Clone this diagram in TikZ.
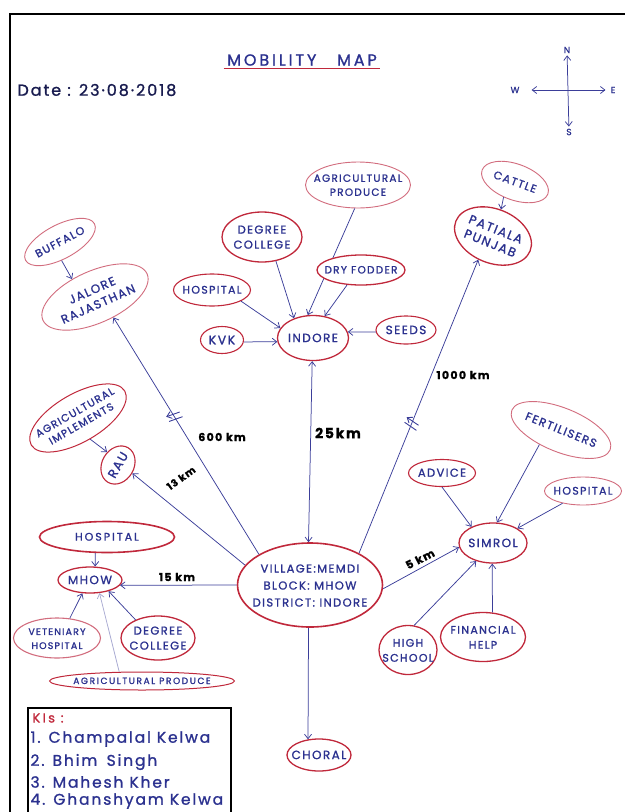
\documentclass[tikz,border=0pt]{standalone}
\usepackage{fontspec}
\setmainfont{Poppins}
\newfontfamily\hand[LetterSpace=12,FakeBold=1.2]{Poppins}
\newfontfamily\wide[LetterSpace=18,FakeBold=1.2]{Poppins}
\usetikzlibrary{shapes.geometric,arrows.meta,decorations.markings}
\definecolor{ink}{HTML}{2B318F}
\definecolor{pen}{HTML}{3B3E99}
\definecolor{rim}{HTML}{C0283B}
\definecolor{pale}{HTML}{D26D7E}
\newcommand{\sz}[2]{\fontsize{#1}{#2}\selectfont}
\newcommand{\tx}[1]{\makebox[0pt]{\smash{\raisebox{-.36em}{\begin{tabular}{@{}c@{}}#1\end{tabular}}}}}

\begin{document}
\begin{tikzpicture}[x=1pt,y=-1pt,>={Straight Barb[length=4.5pt,width=7pt]},
  every node/.style={font=\hand\sz{12}{14}},
  town/.style={ellipse,draw=rim,line width=1.3pt,fill=white,inner sep=0pt,text=ink},
  thing/.style={town,draw=pale,line width=.9pt},
  link/.style={draw=pen,line width=.75pt,->},
  dist/.style={font=\hand\bfseries\sz{11}{12},text=black},
  brk/.style={postaction={decorate},decoration={markings,mark=at position #1 with {\draw[pen,line width=.9pt] (-4pt,-7pt) -- (-1pt,7pt) (1.5pt,-7pt) -- (4.5pt,7pt);}}}]
  \useasboundingbox (0,0) rectangle (625,812);
  \draw[line width=2.5pt] (10,812) -- (10,14) -- (625,14);

  % heading, date, compass
  \node[text=ink,font=\wide\sz{16}{18}] (ttl) at (302,60) {MOBILITY\hspace{1.3em}MAP};
  \draw[rim,line width=1.1pt] ([yshift=1pt]ttl.south west) -- ([yshift=1pt]ttl.south east);
  \node[anchor=west,text=ink!55!black,font=\hand\sz{16}{18}] (date) at (14,90) {Date : 23·08·2018};
  \node[text=ink,inner sep=2pt,font=\hand\sz{9}{10}] (cN) at (567,50) {N};
  \node[text=ink,inner sep=2pt,font=\hand\sz{9}{10}] (cS) at (569,132) {S};
  \node[text=ink,inner sep=2pt,font=\hand\sz{9}{10}] (cW) at (515,90) {W};
  \node[text=ink,inner sep=2pt,font=\hand\sz{9}{10}] (cE) at (613,90) {E};
  \draw[pen,line width=.75pt,<->] (cN) -- (cS);
  \draw[pen,line width=.75pt,<->,shorten <=10pt,shorten >=3pt] (cW) -- (cE);

  % places round Indore
  \node[thing,minimum width=105,minimum height=46,font=\hand\sz{10.5}{14}] (agp) at (358,185) {\tx{AGRICULTURAL\\PRODUCE}};
  \node[town,minimum width=71,minimum height=45] (ind) at (313,338) {\tx{INDORE}};
  \draw[link] (agp.262) -- (ind.103);
  \node[town,minimum width=88,minimum height=30,font=\hand\sz{10.5}{12}] (dry) at (361,270) {\tx{DRY FODDER}};
  \node[town,minimum width=80,minimum height=50,font=\hand\sz{11.5}{15}] (dcol) at (262,237) {\tx{DEGREE\\COLLEGE}};
  \node[town,line width=1.1pt,minimum width=77,minimum height=32,font=\hand\sz{11}{12}] (hos1) at (212,290) {\tx{HOSPITAL}};
  \node[town,line width=1.1pt,minimum width=43,minimum height=27,font=\hand\sz{12.5}{14}] (kvk) at (222,340) {\tx{KVK}};
  \node[town,line width=1.1pt,minimum width=60,minimum height=28] (seeds) at (406,330) {\tx{SEEDS}};

  % far places
  \node[thing,rotate=-20,minimum width=70,minimum height=36,font=\hand\sz{11}{12}] (cattle) at (515,182) {\tx{CATTLE}};
  \node[town,rotate=-22,minimum width=80,minimum height=54,font=\hand\sz{12.5}{15}] (pat) at (493,236) {\tx{PATIALA\\PUNJAB}};
  \node[thing,rotate=28,minimum width=78,minimum height=34,font=\hand\sz{11}{12}] (buf) at (60,242) {\tx{BUFFALO}};
  \node[thing,rotate=24,minimum width=114,minimum height=52,font=\hand\sz{12}{15}] (jal) at (95,297) {\tx{JALORE\\RAJASTHAN}};
  \node[town,line width=1pt,rotate=30,minimum width=108,minimum height=48,font=\hand\sz{10.5}{13}] (imp) at (78,418) {\tx{AGRICULTURAL\\IMPLEMENTS}};
  \node[town,line width=1.1pt,rotate=60,minimum width=40,minimum height=32,font=\hand\sz{12.5}{14}] (rau) at (118,465) {\tx{RAU}};

  % Simrol side
  \node[thing,rotate=-22,minimum width=106,minimum height=44,font=\hand\sz{11.5}{13}] (fert) at (561,430) {\tx{FERTILISERS}};
  \node[town,line width=1.1pt,minimum width=67,minimum height=27,font=\hand\sz{11.5}{13}] (adv) at (442,473) {\tx{ADVICE}};
  \node[thing,minimum width=77,minimum height=28,font=\hand\sz{11}{12}] (hos2) at (583,491) {\tx{HOSPITAL}};
  \node[town,minimum width=68,minimum height=40] (sim) at (493,543) {\tx{SIMROL}};
  \node[town,minimum width=58,minimum height=49,font=\hand\sz{11}{15}] (high) at (408,650) {\tx{HIGH\\SCHOOL}};
  \node[town,minimum width=85,minimum height=49,font=\hand\sz{11}{15}] (fin) at (483,637) {\tx{FINANCIAL\\HELP}};

  % Mhow side
  \node[town,line width=1.6pt,minimum width=135,minimum height=31,font=\wide\sz{11}{12}] (hos3) at (107,537) {\tx{HOSPITAL}};
  \node[town,minimum width=64,minimum height=26] (mhow) at (90,580) {\tx{MHOW}};
  \node[thing,line width=1.1pt,minimum width=87,minimum height=40,font=\hand\sz{9.5}{14}] (vet) at (57,638) {\tx{VETENIARY\\HOSPITAL}};
  \node[town,minimum width=74,minimum height=44,font=\hand\sz{11.5}{15}] (dcol2) at (158,638) {\tx{DEGREE\\COLLEGE}};
  \node[town,line width=1pt,minimum width=185,minimum height=18,font=\wide\sz{9}{10}] (agp2) at (142,681) {\tx{AGRICULTURAL PRODUCE}};

  % the village
  \node[town,line width=1.6pt,minimum width=145,minimum height=84,font=\hand\sz{11.5}{17}] (vil) at (310,585) {\tx{VILLAGE:MEMDI\\BLOCK: MHOW\\DISTRICT: INDORE}};
  \node[town,minimum width=64,minimum height=32] (choral) at (319,755) {\tx{CHORAL}};

  \draw[link,brk=.58] (vil.149) -- (jal.288);
  \draw[link,<->] (vil.92) -- (ind.268);
  \draw[link,brk=.44] (vil.33) -- (pat.260);
  \draw[link] (vil.163) -- (rau.270);
  \draw[link] (vil.180) -- (mhow.-10);
  \draw[link] (vil.357) -- (sim.187);
  \draw[link] (vil.268) -- (choral.125);

  \draw[link] (hos1.339) -- (ind.163);
  \draw[link] (dcol.300) -- (ind.134);
  \draw[link] (dry.227) -- (ind.62);
  \draw[link] (seeds.184) -- (ind.10);
  \draw[link] (kvk.355) -- (ind.186);
  \draw[link] (cattle.253) -- (pat.95);
  \draw[link] (buf.247) -- (jal.118);
  \draw[link] (imp.270) -- (rau.70);
  \draw[link] (hos3.234) -- (mhow.69);
  \draw[link] (vet.57) -- (mhow.240);
  \draw[link,draw=pen!45] (agp2.158) -- (mhow.306);
  \draw[link] (dcol2.141) -- (mhow.329);
  \draw[link] (adv.270) -- (sim.143);
  \draw[link] (fert.236) -- (sim.79);
  \draw[link] (hos2.211) -- (sim.31);
  \draw[link] (high.76) -- (sim.227);
  \draw[link] (fin.69) -- (sim.268);

  % distances
  \node[dist] (d1000) at (463,375) {1000 km};
  \node[dist] (d600) at (222,437) {600 km};
  \node[dist,font=\hand\bfseries\sz{14}{16}] (d25) at (338,433) {25km};
  \node[dist,rotate=36,font=\hand\bfseries\sz{10}{11}] (d13) at (181,478) {13 km};
  \node[dist] (d15) at (177,577) {15 km};
  \node[dist,rotate=27] (d5) at (420,559) {5 km};

  % key informants
  \draw[line width=1.3pt] (28,816) -- (28,708) -- (231,708) -- (231,816);
  \node[anchor=west,text=rim,font=\wide\sz{13}{14}] (kis) at (29,718) {KIs :};
  \node[anchor=west,text=ink,font=\hand\sz{15.5}{17}] (k1) at (27,739) {1. Champalal Kelwa};
  \node[anchor=west,text=ink,font=\hand\sz{15.5}{17}] (k2) at (27,762) {2. Bhim\hspace{.6em}Singh};
  \node[anchor=west,text=ink,font=\hand\sz{15.5}{17}] (k3) at (27,782) {3. Mahesh Kher};
  \node[anchor=west,text=ink,font=\hand\sz{15.5}{17}] (k4) at (27,801) {4. Ghanshyam Kelwa};
\end{tikzpicture}
\end{document}
